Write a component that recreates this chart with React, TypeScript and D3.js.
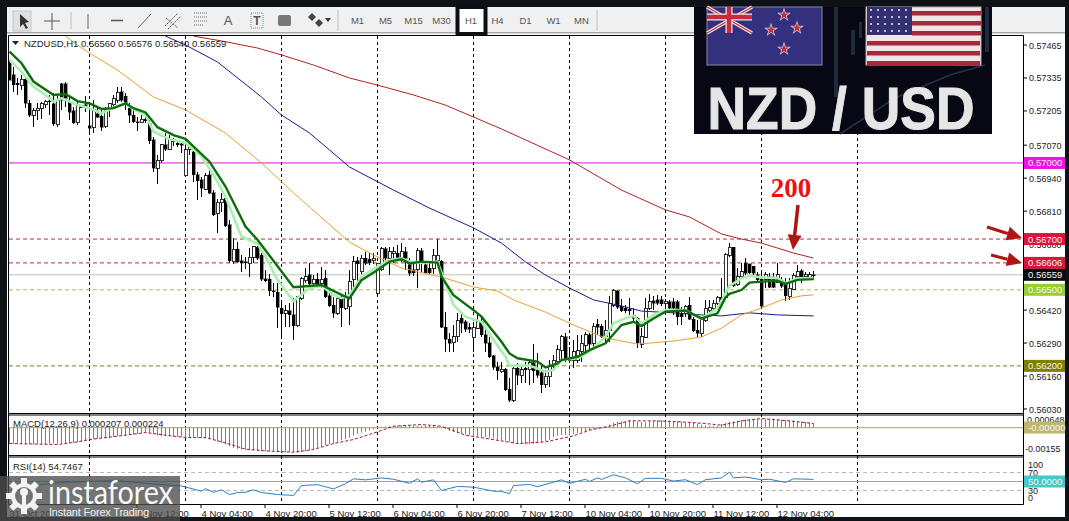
import * as d3 from 'd3';
import React from 'react';

// prices are in points (1e-5)
const opens = [
  57393,57347,57314,57304,57330,57235,57189,57205,57216,57229,
  57245,57233,57150,57312,57312,57242,57206,57159,57225,57229,
  57146,57141,57193,57185,57143,57209,57229,57248,57281,57262,
  57216,57189,57163,57159,57172,57157,57091,56979,57009,57071,
  57054,57091,57078,57075,56949,57054,57045,56953,56933,56896,
  56953,56883,56802,56844,56861,56756,56611,56660,56615,56611,
  56602,56628,56668,56637,56544,56542,56497,56490,56427,56408,
  56417,56401,56359,56467,56536,56559,56523,56542,56526,56545,
  56476,56440,56408,56467,56427,56434,56541,56615,56571,56624,
  56620,56615,56486,56578,56661,56624,56644,56644,56628,56650,
  56598,56578,56581,56654,56598,56584,56584,56615,56613,56352,
  56305,56291,56315,56387,56374,56352,56311,56348,56374,56322,
  56291,56239,56197,56177,56186,56107,56065,56190,56161,56190,
  56184,56213,56184,56173,56128,56157,56197,56217,56260,56315,
  56230,56220,56223,56256,56282,56322,56289,56365,56357,56315,
  56341,56440,56496,56436,56427,56423,56400,56387,56286,56312,
  56427,56456,56460,56460,56447,56453,56453,56453,56407,56407,
  56440,56383,56341,56326,56378,56418,56427,56444,56470,56470,
  56637,56667,56519,56552,56605,56602,56592,56559,56542,56542,
  56552,56546,56528,56536,56526,56473,56502,56552,56576,56552,
  56550,56560,
];
const highs = [
  57406,57380,57334,57347,57340,57248,57216,57235,57242,57248,
  57268,57275,57262,57317,57321,57262,57222,57248,57229,57262,
  57229,57248,57216,57216,57222,57238,57268,57298,57298,57275,
  57235,57222,57183,57189,57193,57170,57104,57032,57075,57117,
  57111,57097,57091,57084,57065,57067,57051,56966,56946,56959,
  56979,56894,56857,56883,56867,56775,56703,56690,56637,56631,
  56664,56673,56673,56644,56578,56563,56526,56526,56447,56440,
  56447,56467,56476,56549,56585,56607,56559,56565,56589,56578,
  56506,56473,56473,56480,56493,56578,56633,56628,56637,56650,
  56644,56644,56607,56667,56667,56670,56670,56676,56686,56670,
  56624,56604,56663,56663,56611,56611,56659,56699,56617,56414,
  56328,56361,56407,56414,56381,56368,56374,56407,56387,56355,
  56315,56243,56217,56217,56190,56151,56197,56210,56203,56217,
  56223,56286,56249,56210,56184,56223,56243,56282,56322,56328,
  56276,56302,56322,56322,56335,56328,56368,56383,56365,56381,
  56475,56502,56499,56462,56440,56466,56427,56394,56348,56466,
  56483,56475,56479,56475,56462,56460,56466,56460,56433,56440,
  56473,56394,56381,56387,56460,56460,56460,56475,56545,56644,
  56686,56670,56584,56607,56624,56602,56594,56572,56565,56572,
  56565,56565,56605,56552,56546,56546,56565,56598,56581,56572,
  56572,56576,
];
const lows = [
  57327,57281,57268,57288,57216,57183,57141,57170,57172,57216,
  57189,57146,57141,57209,57222,57170,57154,57150,57216,57202,
  57117,57117,57176,57124,57137,57183,57222,57235,57242,57209,
  57157,57157,57124,57157,57157,57075,56966,56917,56999,57049,
  57051,57065,57062,57038,56944,57032,56923,56852,56865,56894,
  56878,56789,56725,56808,56749,56607,56602,56607,56572,56581,
  56549,56605,56618,56536,56532,56476,56473,56348,56316,56355,
  56355,56302,56355,56460,56526,56510,56506,56506,56506,56467,
  56434,56388,56401,56352,56421,56360,56506,56532,56562,56598,
  56598,56602,56483,56575,56611,56558,56604,56617,56611,56578,
  56554,56554,56506,56571,56562,56562,56562,56604,56348,56256,
  56256,56256,56295,56328,56335,56328,56256,56344,56315,56256,
  56230,56184,56144,56171,56102,56059,56059,56125,56131,56131,
  56125,56131,56151,56092,56111,56118,56184,56210,56223,56217,
  56210,56190,56210,56217,56249,56249,56269,56322,56309,56295,
  56295,56433,56423,56414,56407,56400,56374,56269,56269,56309,
  56420,56420,56440,56436,56431,56407,56400,56361,56361,56394,
  56381,56335,56315,56312,56374,56414,56420,56440,56436,56466,
  56630,56512,56515,56546,56559,56563,56559,56532,56434,56506,
  56506,56506,56526,56506,56454,56460,56500,56546,56528,56542,
  56542,56540,
];
const closes = [
  57327,57308,57308,57330,57235,57189,57205,57216,57233,57242,
  57241,57154,57251,57248,57255,57199,57159,57229,57218,57222,
  57137,57209,57180,57141,57212,57233,57255,57279,57248,57235,
  57189,57163,57159,57172,57167,57088,56979,57009,57071,57054,
  57091,57084,57071,57070,57054,57062,56953,56930,56900,56949,
  56881,56795,56845,56857,56753,56615,56660,56611,56607,56607,
  56628,56670,56624,56542,56536,56497,56493,56431,56405,56417,
  56401,56359,56473,56545,56552,56523,56542,56519,56542,56473,
  56438,56408,56467,56430,56473,56532,56611,56602,56624,56604,
  56607,56624,56604,56661,56624,56650,56650,56627,56650,56624,
  56565,56567,56654,56615,56567,56567,56637,56637,56352,56305,
  56289,56315,56377,56368,56344,56344,56351,56374,56322,56289,
  56236,56194,56180,56186,56105,56065,56190,56164,56184,56184,
  56213,56181,56164,56125,56160,56197,56223,56263,56315,56226,
  56220,56256,56260,56289,56322,56286,56357,56352,56315,56341,
  56447,56499,56431,56418,56418,56418,56387,56291,56315,56427,
  56453,56447,56447,56444,56453,56427,56427,56394,56394,56436,
  56383,56339,56328,56381,56427,56431,56447,56470,56460,56641,
  56667,56515,56552,56572,56565,56568,56565,56539,56436,56559,
  56510,56510,56559,56513,56476,56506,56555,56572,56549,56559,
  56559,56559,
];

// moving averages as [bar index, points]
const maFast: [number, number][] = [
  [0,57406],[3,57360],[6,57301],[9,57268],[11,57242],[13,57255],[17,57229],[20,57216],[23,57196],[26,57218],
  [29,57235],[31,57212],[34,57189],[36,57124],[40,57093],[44,57080],[48,57025],[51,56953],[54,56867],[58,56710],
  [62,56681],[64,56631],[67,56539],[71,56456],[75,56506],[78,56515],[81,56480],[83,56467],[85,56479],[88,56552],
  [92,56591],[95,56617],[98,56624],[100,56611],[103,56607],[107,56611],[109,56525],[111,56440],[114,56394],[118,56374],
  [121,56302],[124,56236],[125,56201],[130,56201],[134,56177],[136,56184],[138,56223],[142,56230],[145,56256],[149,56315],
  [151,56368],[155,56394],[156,56397],[158,56368],[161,56400],[164,56420],[169,56420],[173,56387],[177,56427],[180,56515],
  [183,56545],[185,56555],[188,56549],[192,56546],[194,56526],[197,56545],[201,56545],
];
const maSlow: [number, number][] = [
  [0,57439],[3,57393],[6,57321],[11,57268],[14,57272],[17,57244],[20,57235],[23,57213],[26,57216],[29,57235],
  [31,57216],[34,57199],[37,57141],[41,57110],[44,57095],[50,57005],[54,56907],[59,56749],[62,56697],[71,56510],
  [78,56519],[83,56480],[85,56466],[88,56538],[92,56578],[95,56611],[98,56620],[100,56604],[103,56611],[107,56607],
  [108,56552],[111,56479],[116,56420],[118,56394],[123,56295],[125,56249],[127,56230],[132,56217],[134,56194],[137,56210],
  [138,56223],[142,56236],[145,56262],[149,56289],[153,56361],[156,56374],[158,56357],[161,56387],[164,56414],[169,56418],
  [173,56387],[177,56407],[179,56470],[180,56484],[183,56499],[185,56528],[188,56532],[192,56536],[194,56523],[197,56539],[201,56542],
];
const ma50: [number, number][] = [
  [14,57500],[17,57465],[20,57433],[27,57366],[36,57260],[44,57209],[54,57118],[63,57000],[71,56882],[85,56688],
  [91,56637],[98,56586],[108,56550],[116,56511],[122,56495],[126,56460],[134,56412],[141,56361],[149,56310],[157,56286],
  [166,56298],[173,56314],[178,56349],[183,56401],[188,56428],[193,56460],[198,56476],[201,56480],
];
const ma100: [number, number][] = [
  [39,57500],[44,57465],[52,57398],[63,57260],[68,57189],[75,57118],[85,56984],[96,56893],[105,56822],[116,56744],
  [123,56684],[129,56610],[134,56558],[140,56507],[146,56460],[152,56440],[158,56416],[166,56409],[173,56401],[178,56397],
  [185,56409],[192,56401],[201,56397],
];
const ma200: [number, number][] = [
  [46,57500],[53,57481],[62,57453],[68,57426],[76,57386],[85,57335],[92,57307],[101,57268],[109,57228],[116,57181],
  [123,57134],[140,57012],[153,56893],[164,56815],[170,56787],[178,56720],[183,56700],[188,56684],[196,56645],[201,56625],
];

// MACD in 1e-6
const macdHist = [
  -1210,-1220,-1230,-1240,-1240,-1250,-1250,-1240,-1230,-1220,
  -1210,-1200,-1210,-1220,-1210,-1190,-1150,-1100,-1050,-1000,
  -900,-860,-830,-800,-770,-740,-700,-660,-620,-590,
  -560,-530,-480,-430,-380,-420,-500,-600,-640,-650,
  -660,-680,-690,-700,-720,-720,-730,-740,-770,-820,
  -880,-960,-1050,-1150,-1260,-1400,-1520,-1600,-1640,-1680,
  -1700,-1700,-1720,-1760,-1780,-1800,-1800,-1820,-1840,-1830,
  -1840,-1860,-1880,-1840,-1760,-1700,-1620,-1520,-1420,-1320,
  -1240,-1160,-1060,-960,-860,-760,-600,-480,-380,-300,
  -220,-130,-60,20,70,100,120,130,140,160,
  150,140,130,140,150,120,130,100,30,-120,
  -250,-340,-400,-450,-520,-560,-620,-640,-690,-720,
  -760,-830,-900,-960,-1000,-1080,-1200,-1240,-1240,-1260,
  -1240,-1220,-1170,-1100,-1020,-900,-720,-620,-560,-560,
  -570,-500,-420,-350,-260,-200,-130,-60,-10,80,
  220,360,440,480,500,550,520,450,420,400,
  450,520,540,560,520,500,480,470,440,380,
  350,340,300,210,170,120,100,130,260,350,
  420,470,500,560,600,640,620,660,640,620,
  600,590,600,580,560,540,510,480,460,430,
  400,300,
];
const macdSignal: [number, number][] = [
  [0,-1200],[12,-1275],[17,-1075],[20,-900],[27,-650],[34,-375],[39,-575],[44,-750],[49,-750],[54,-1150],
  [59,-1625],[64,-1750],[71,-1850],[76,-1650],[81,-1200],[86,-900],[92,-325],[96,100],[103,225],[108,100],
  [114,-575],[123,-1000],[127,-1200],[134,-1075],[141,-625],[145,-200],[150,100],[155,500],[161,500],[168,425],
  [174,300],[178,175],[183,500],[188,675],[195,500],[201,300],
];
const rsiLine: [number, number][] = [
  [0,45],[6,41],[14,48.5],[27,52],[35,45],[43,40],[45,35.5],[48,28.5],[49,34],[51,26],
  [53,31.5],[55,21],[57,25.5],[59,26],[61,31.5],[63,25.5],[67,21],[71,19],[73,41],[77,43],
  [81,33.5],[84,45],[86,56],[89,53.7],[93,58],[96,55],[100,46],[102,56],[103,48.5],[106,53.7],
  [108,30],[112,39],[116,37.5],[121,28.5],[123,28],[125,23],[126,41],[130,43.5],[132,38.5],[138,53.7],
  [140,46],[144,55],[145,50],[147,58],[148,54.5],[151,65],[154,58],[157,45],[159,57],[163,57],
  [166,51],[169,54],[172,43],[174,54],[178,58],[180,71],[181,58],[184,60],[188,54],[190,55],
  [194,48],[196,56],[201,54.7],
];

// 0.56550 sits fully behind the current price tag, so only its tick shows
const priceTicks = [57465, 57335, 57205, 57070, 56940, 56810, 56680, 56420, 56290, 56160, 56030];
const dayLineBars = [20, 44, 68, 92, 116, 140, 164, 188, 212];
const timeLabels = ['31 Oct 20:00', '', '3 Nov 12:00', '4 Nov 04:00', '4 Nov 20:00', '5 Nov 12:00', '6 Nov 04:00', '6 Nov 20:00', '7 Nov 12:00', '10 Nov 04:00', '10 Nov 20:00', '11 Nov 12:00', '12 Nov 04:00'];
const periods = ['M1', 'M5', 'M15', 'M30', 'H1', 'H4', 'D1', 'W1', 'MN'];
const levels = [
  { value: 57000, label: '0.57000', color: '#e010d8', dash: '', tag: '#f010e8' },
  { value: 56700, label: '0.56700', color: '#a8324a', dash: '4 3', tag: '#dc143c' },
  { value: 56606, label: '0.56606', color: '#a8324a', dash: '4 3', tag: '#dc143c' },
  { value: 56559, label: '0.56559', color: '#c0c0c0', dash: '', tag: '#0a0a0a' },
  { value: 56500, label: '0.56500', color: '#a8c040', dash: '4 3', tag: '#9acd32' },
  { value: 56200, label: '0.56200', color: '#808020', dash: '4 3', tag: '#808000' },
];

const FONT = '"Liberation Sans", sans-serif';
const W = 1069;
const H = 521;

const x = d3.scaleLinear().domain([0, 201]).range([9.5, 813.5]);
const y = d3.scaleLinear().domain([57465, 56030]).range([45, 409]);
const yMacd = d3.scaleLinear().domain([940, -2060]).range([415, 455]);
const yRsi = d3.scaleLinear().domain([100, 0]).range([459, 504]);

const priceLine = d3.line<[number, number]>().x(d => x(d[0])).y(d => y(d[1]));
const macdLine = d3.line<[number, number]>().x(d => x(d[0])).y(d => yMacd(d[1]));
const rsiPath = d3.line<[number, number]>().x(d => x(d[0])).y(d => yRsi(d[1]));

const star = d3.symbol().type(d3.symbolStar);

const Arrow = ({ x1, y1, x2, y2, w = 3.5, head = 15 }: { x1: number; y1: number; x2: number; y2: number; w?: number; head?: number }) => {
  const a = Math.atan2(y2 - y1, x2 - x1);
  const bx = x2 - head * Math.cos(a);
  const by = y2 - head * Math.sin(a);
  const nx = -Math.sin(a);
  const ny = Math.cos(a);
  return (
    <g fill="#b01515">
      <line x1={x1} y1={y1} x2={bx} y2={by} stroke="#b01515" strokeWidth={w} />
      <polygon points={`${x2},${y2} ${bx + nx * 7},${by + ny * 7} ${bx - nx * 7},${by - ny * 7}`} />
    </g>
  );
};

const Tag = ({ yPos, label, fill }: { yPos: number; label: string; fill: string }) => (
  <g>
    <rect x={1024} y={yPos - 6} width={41} height={12} fill={fill} />
    <text x={1028} y={yPos + 3.5} fontSize={9.5} fill="#f4f4f4" fontFamily={FONT}>{label}</text>
  </g>
);

export default function App() {
  const bars = d3.range(opens.length);
  return (
    <svg width={W} height={H} viewBox={`0 0 ${W} ${H}`} style={{ position: 'absolute', left: 0, top: 0, display: 'block' }}>
      <defs>
        <clipPath id="mainClip"><rect x={9} y={36} width={1014} height={378} /></clipPath>
      </defs>
      <rect width={W} height={H} fill="#0e1116" />
      <rect x={7} y={7} width={1058} height={510} fill="#ffffff" />

      {/* toolbar */}
      <rect x={7} y={7} width={1058} height={25} fill="#f0f0f0" />
      <rect x={7} y={32} width={1058} height={1.5} fill="#a8a8a8" />
      <rect x={13} y={11} width={18} height={20} fill="#e0e0e0" stroke="#c8c8c8" />
      <path d="M20,14 L20,27 L23,24 L26,29 L28,28 L25,23 L29,22 Z" fill="#333" />
      <path d="M52,13 V30 M44,21 H60" stroke="#555" strokeWidth={1} />
      <path d="M88,14 V29" stroke="#666" />
      <path d="M111,20.5 H123" stroke="#555" strokeWidth={1.5} />
      <path d="M138,28 L151,14" stroke="#666" />
      <path d="M165,26 L178,13 M168,29 L181,16 M166,18 L178,28" stroke="#555" strokeWidth={1} strokeDasharray="2 1" />
      <path d="M194,13 H208 M194,17 H208 M194,21 H208 M194,25 H204" stroke="#666" strokeDasharray="1 1" />
      <text x={228} y={25} textAnchor="middle" fontSize={13} fill="#555" fontFamily={FONT}>A</text>
      <rect x={251} y={13} width={12} height={15} fill="none" stroke="#888" strokeDasharray="1 1" />
      <text x={257} y={25} textAnchor="middle" fontSize={12} fontWeight="bold" fill="#555" fontFamily={FONT}>T</text>
      <rect x={278} y={15} width={13} height={11} rx={2} fill="#777" />
      <path d="M312,13 l4,4 l-4,4 l-4,-4 Z M319,19 l4,4 l-4,4 l-4,-4 Z" fill="#444" />
      <path d="M325,18 h6 l-3,4 Z" fill="#333" />
      <path d="M71,12 V29 M338,10 V31 M597,10 V31" stroke="#c0c0c0" />
      {periods.map((p, i) => (
        <text key={p} x={357.5 + i * 28} y={24} textAnchor="middle" fontSize={9.5} fill="#555" fontFamily={FONT}>{p}</text>
      ))}
      <rect x={457.5} y={7} width={28} height={27} fill="#ffffff" stroke="#0c0f14" strokeWidth={4} />
      <text x={471} y={24} textAnchor="middle" fontSize={9.5} fill="#555" fontFamily={FONT}>H1</text>

      {/* frames */}
      <path d="M8.5,35.5 H1023.5 V504.5 H8.5 Z" fill="none" stroke="#000" />
      <path d="M8,413.5 H1024 M8,415 H1024 M8,455.5 H1024 M8,457 H1024" stroke="#000" strokeWidth={1} />

      {/* day separators */}
      {dayLineBars.map(b => (
        <line key={b} x1={x(b)} x2={x(b)} y1={36} y2={504} stroke="#000" strokeDasharray="3 3" />
      ))}

      <g clipPath="url(#mainClip)">
        {levels.map(l => (
          <line key={l.label} x1={9} x2={1023} y1={y(l.value)} y2={y(l.value)} stroke={l.color} strokeWidth={1} strokeDasharray={l.dash} />
        ))}
        {bars.map(i => {
          const up = closes[i] >= opens[i];
          const top = y(Math.max(opens[i], closes[i]));
          const bottom = y(Math.min(opens[i], closes[i]));
          return (
            <g key={i} shapeRendering="crispEdges">
              <line x1={x(i)} x2={x(i)} y1={y(highs[i])} y2={y(lows[i])} stroke="#000" />
              <rect x={x(i) - 1.5} y={top} width={3} height={Math.max(bottom - top, 1)} fill={up ? '#fff' : '#000'} stroke="#000" strokeWidth={up ? 0.8 : 0.4} />
            </g>
          );
        })}
        <path d={priceLine(ma200) ?? ''} fill="none" stroke="#b22222" strokeWidth={1} />
        <path d={priceLine(ma100) ?? ''} fill="none" stroke="#1a1a8c" strokeWidth={1} />
        <path d={priceLine(ma50) ?? ''} fill="none" stroke="#e8a030" strokeWidth={1} />
        <path d={priceLine(maFast) ?? ''} fill="none" stroke="#a8f0b0" strokeWidth={2.6} />
        <path d={priceLine(maSlow) ?? ''} fill="none" stroke="#0e6e0e" strokeWidth={2.4} />
      </g>

      {/* header */}
      <path d="M12,41 h7 l-3.5,4 Z" fill="#222" />
      <text x={24} y={47} fontSize={9.5} fill="#222" fontFamily={FONT}>NZDUSD,H1  0.56560 0.56576 0.56540 0.56559</text>

      {/* price axis */}
      {[...priceTicks, 56550].map(t => (
        <line key={t} x1={1024} x2={1027} y1={y(t)} y2={y(t)} stroke="#000" />
      ))}
      {priceTicks.map(t => (
        <text key={t} x={1029} y={y(t) + 3.5} fontSize={9} fill="#222" fontFamily={FONT}>{(t / 100000).toFixed(5)}</text>
      ))}
      {levels.map(l => <Tag key={l.label} yPos={y(l.value)} label={l.label} fill={l.tag} />)}

      {/* MACD */}
      <line x1={9} x2={1023} y1={yMacd(0)} y2={yMacd(0)} stroke="#bdb76b" strokeWidth={1.3} />
      {macdHist.map((v, i) => (
        <line key={i} x1={x(i)} x2={x(i)} y1={yMacd(0)} y2={yMacd(v)} stroke="#808080" />
      ))}
      <path d={macdLine(macdSignal) ?? ''} fill="none" stroke="#a01828" strokeDasharray="3 2" />
      <text x={13} y={427} fontSize={9.5} fill="#222" fontFamily={FONT}>MACD(12,26,9) 0.000207 0.000224</text>
      <text x={1027} y={423} fontSize={9} fill="#222" fontFamily={FONT}>0.000648</text>
      <text x={1025} y={452} fontSize={9} fill="#222" fontFamily={FONT}>-0.00155</text>
      <Tag yPos={yMacd(0)} label="-0.00000" fill="#bdb76b" />

      {/* RSI */}
      {[70, 30].map(v => (
        <line key={v} x1={9} x2={1023} y1={yRsi(v)} y2={yRsi(v)} stroke="#b8b8b8" strokeDasharray="4 3" />
      ))}
      <line x1={9} x2={1023} y1={yRsi(50)} y2={yRsi(50)} stroke="#48c8c8" />
      <path d={rsiPath(rsiLine) ?? ''} fill="none" stroke="#2a80c0" />
      <text x={13} y={470} fontSize={9.5} fill="#222" fontFamily={FONT}>RSI(14) 54.7467</text>
      <text x={1028} y={468} fontSize={9} fill="#222" fontFamily={FONT}>100</text>
      <text x={1028} y={476} fontSize={9} fill="#222" fontFamily={FONT}>70</text>
      <text x={1028} y={494} fontSize={9} fill="#222" fontFamily={FONT}>30</text>
      <text x={1028} y={501} fontSize={9} fill="#222" fontFamily={FONT}>0</text>
      <Tag yPos={yRsi(50)} label="50.0000" fill="#48c8c8" />

      {/* time axis */}
      {timeLabels.map((t, i) => t && (
        <g key={t}>
          <line x1={9 + i * 64} x2={9 + i * 64} y1={505} y2={508} stroke="#000" />
          <text x={9.5 + i * 64} y={516.5} fontSize={9.5} fill="#222" fontFamily={FONT}>{t}</text>
        </g>
      ))}
      <rect x={0} y={517} width={W} height={4} fill="#0e1116" />

      {/* NZD / USD picture */}
      <rect x={694} y={7} width={298} height={127} fill="#070814" />
      <g fill="#1c2c3c">
        <rect x={834} y={7} width={4} height={90} />
        <rect x={851} y={30} width={4} height={25} />
        <rect x={859} y={22} width={3} height={16} />
        <rect x={985} y={7} width={4} height={45} />
      </g>
      <path d="M840,134 L895,98 L950,75 L985,65" fill="none" stroke="#1e3448" strokeWidth={1.5} />
      <rect x={707} y={7} width={115} height={58} fill="#33307e" stroke="#8a88a8" />
      <path d="M707,7 L752,33 M752,7 L707,33" stroke="#f0e8e8" strokeWidth={3.5} />
      <path d="M707,7 L752,33 M752,7 L707,33" stroke="#cc2a3a" strokeWidth={1.2} />
      <path d="M729,7 V33 M707,17 H752" stroke="#f0e8e8" strokeWidth={7} />
      <path d="M729,7 V33 M707,17 H752" stroke="#cc2a3a" strokeWidth={4.5} />
      {[[784, 15], [771, 30], [797, 28], [784, 49]].map(([sx, sy], i) => (
        <g key={i} transform={`translate(${sx},${sy})`}>
          <path d={star.size(62)() ?? ''} fill="#c8c8e0" />
          <path d={star.size(28)() ?? ''} fill="#cc2a3a" />
        </g>
      ))}
      <rect x={866} y={7} width={115} height={58} fill="#f0e6e6" stroke="#c0a8a8" />
      {d3.range(0, 6).map(i => (
        <rect key={i} x={i < 3 ? 912 : 867} y={11 + i * 10} width={i < 3 ? 69 : 113} height={4.5} fill="#a5283c" />
      ))}
      <rect x={867} y={7} width={45} height={28} fill="#332f72" />
      {d3.range(0, 4).map(r => d3.range(0, 6).map(c => (
        <circle key={`${r}-${c}`} cx={871 + c * 7} cy={10 + r * 7} r={1} fill="#f0f0f0" />
      )))}
      <text x={841} y={129} textAnchor="middle" fontSize={60} fontWeight="bold" fill="#e6e6e6" stroke="#e6e6e6" strokeWidth={1} fontFamily={FONT} textLength={267} lengthAdjust="spacingAndGlyphs">NZD / USD</text>

      {/* annotations */}
      <text x={791} y={197} textAnchor="middle" fontSize={27} fontWeight="bold" fill="#ee1111" fontFamily={'"Liberation Serif", serif'}>200</text>
      <Arrow x1={798} y1={205} x2={793} y2={250} />
      <Arrow x1={987} y1={227} x2={1022} y2={238} w={3} />
      <Arrow x1={991} y1={255} x2={1022} y2={263} w={3} />

      {/* instaforex logo */}
      <rect x={0} y={476} width={180} height={45} fill="rgb(78,78,78)" opacity={0.79} />
      <g transform="translate(24,496)" fill="#f4f4f4">
        {d3.range(8).map(i => (
          <rect key={i} x={-3} y={-18} width={6} height={7} transform={`rotate(${i * 45})`} />
        ))}
        <path d={d3.arc()({ innerRadius: 9, outerRadius: 13, startAngle: 0, endAngle: 2 * Math.PI }) ?? ''} />
        <circle cx={0} cy={-4} r={4} />
        <rect x={-2} y={-2} width={4} height={14} />
      </g>
      <text x={48} y={504} fontSize={33} fill="#f8f8f8" fontFamily="Lato, sans-serif" fontWeight={400} textLength={125} lengthAdjust="spacingAndGlyphs">instaforex</text>
      <text x={49} y={516} fontSize={11} fill="#eeeeee" fontFamily={FONT} textLength={100}>Instant Forex Trading</text>
    </svg>
  );
}
